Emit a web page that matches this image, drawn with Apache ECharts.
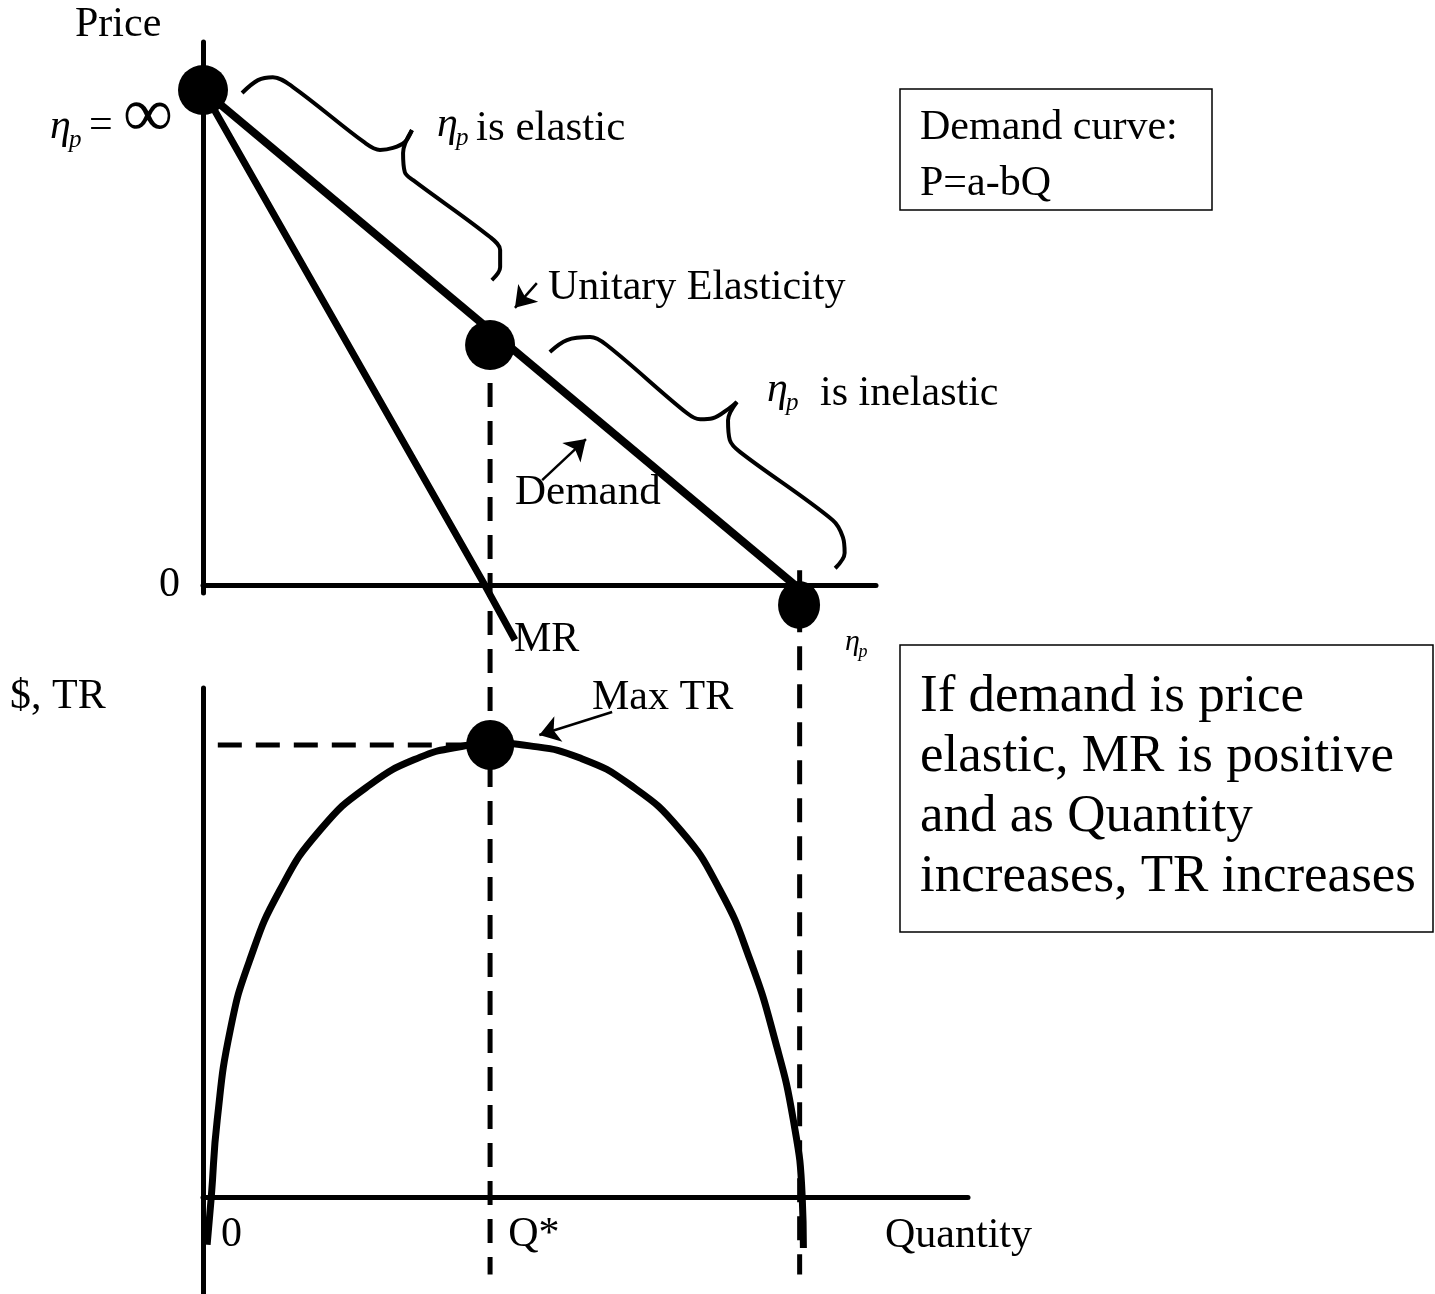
<!DOCTYPE html>
<html>
<head>
<meta charset="utf-8">
<script src="https://cdn.jsdelivr.net/npm/echarts@6/dist/echarts.min.js"></script>
<style>
  html, body { margin: 0; padding: 0; background: #fff; }
  #chart { width: 1435px; height: 1294px; }
</style>
</head>
<body>
<div id="chart"></div>
<script>
// 数据 (Q 以需求截距为 10, P 以价格截距为 10, TR 以最大值为 10)
const qStar = 4.85
const qEnd = 10.08
const demandData = [[0, 10], [10, 0]]
const mrData = [[0, 10], [4.76, 0], [5.27, -1.11]]
const trQ = [0.07, 0.14, 0.24, 0.46, 0.79, 1.30, 1.98, 2.82, 3.67, 4.34, 4.85, 5.52, 6.37, 7.21, 8.06, 8.73, 9.24, 9.66, 9.97, 10.12, 10.14]
const trValue = [-1.06, 0, 1.70, 3.69, 5.24, 6.79, 8.12, 9.12, 9.73, 9.96, 10.04, 9.98, 9.71, 9.12, 8.12, 6.79, 5.24, 3.47, 1.70, 0, -1.13]
const topDots = [[0, 10, 50, 50], [4.85, 4.85, 50, 50], [10.07, -0.4, 42, 48]]
const maxTrDot = [qStar, 10, 48, 50]

// 括号
const elasticBraceA = [[0.66, 9.94], [0.93, 10.2], [1.18, 10.26], [1.52, 10.06], [2.74, 8.93], [2.99, 8.79], [3.21, 8.83], [3.41, 8.95], [3.53, 9.19]]
const elasticBraceB = [[3.53, 9.19], [3.38, 8.73], [3.41, 8.34], [3.55, 8.18], [4.85, 7.03], [5.02, 6.77], [5.02, 6.42], [4.88, 6.16]]
const inelasticBraceA = [[5.86, 4.71], [6.15, 4.95], [6.54, 5.01], [6.82, 4.85], [8.18, 3.47], [8.4, 3.35], [8.61, 3.37], [8.9, 3.58], [9.02, 3.7]]
const inelasticBraceB = [[9.02, 3.7], [8.87, 3.33], [8.9, 2.93], [9.07, 2.69], [10.64, 1.31], [10.81, 0.97], [10.84, 0.65], [10.68, 0.34]]

// 箭头
const unitaryArrow = [[5.64, 6.1], [5.27, 5.6]]
const demandArrow = [[5.73, 2.12], [6.47, 2.95]]
const maxTrArrow = [[6.91, 10.73], [5.68, 10.22]]

// 刻度标签
const bottomTickValues = [0, qStar]
const bottomTickLabels = ['0', 'Q*']

const FONT = '"Liberation Serif", "Times New Roman", serif'
const chart = echarts.init(document.getElementById('chart'))

function axisBase(extra) {
  return Object.assign({
    type: 'value',
    splitLine: { show: false },
    axisTick: { show: false },
    axisLabel: { show: false },
    axisLine: { show: true, lineStyle: { color: '#000', width: 5 } }
  }, extra)
}

function lineSeries(data, width, grid, extra) {
  return Object.assign({
    type: 'line',
    xAxisIndex: grid,
    yAxisIndex: grid,
    data: data,
    showSymbol: false,
    symbol: 'none',
    clip: false,
    lineStyle: { color: '#000', width: width },
    silent: true
  }, extra)
}

function text(t, x, y, size, extra) {
  return {
    type: 'text',
    style: Object.assign({
      text: t, x: x, y: y,
      fill: '#000',
      font: size + 'px ' + FONT,
      verticalAlign: 'middle'
    }, extra)
  }
}

// η 带下标 p
function etaP(x, y, size) {
  const sub = Math.round(size * 0.6)
  return [
    text('η', x, y, size, { font: 'italic ' + size + 'px ' + FONT }),
    text('p', x + size * 0.45, y + size * 0.33, sub, { font: 'italic ' + sub + 'px ' + FONT })
  ]
}

const dashType = [24, 14]
const T = 42

const option = {
  animation: false,
  backgroundColor: '#fff',
  grid: [
    { left: 203, top: 42, width: 673, height: 551, outerBoundsMode: 'none' },
    { left: 203, top: 688, width: 765, height: 606, outerBoundsMode: 'none' }
  ],
  xAxis: [
    axisBase({ gridIndex: 0, min: 0, max: 11.37 }),
    axisBase({ gridIndex: 1, min: 0, max: 12.92 })
  ],
  yAxis: [
    axisBase({
      gridIndex: 0, min: -0.16, max: 10.97,
      axisLabel: {
        show: true,
        customValues: [0],
        formatter: () => '0',
        margin: 23,
        padding: [22, 0, 0, 0],
        color: '#000',
        fontSize: T,
        fontFamily: FONT
      }
    }),
    axisBase({ gridIndex: 1, min: -2.15, max: 11.26 })
  ],
  series: [
    // 虚线
    lineSeries([[qStar, 4.85], [qStar, -14.32]], 5, 0, { lineStyle: { color: '#000', width: 5, type: dashType } }),
    lineSeries([[qEnd, 0.3], [qEnd, -14.32]], 5, 0, { lineStyle: { color: '#000', width: 5, type: dashType } }),
    lineSeries([[0.25, 10], [qStar, 10]], 5, 1, { lineStyle: { color: '#000', width: 5, type: dashType } }),
    // 括号
    lineSeries(elasticBraceA, 4, 0, { smooth: 0.35 }),
    lineSeries(elasticBraceB, 4, 0, { smooth: 0.35 }),
    lineSeries(inelasticBraceA, 4, 0, { smooth: 0.35 }),
    lineSeries(inelasticBraceB, 4, 0, { smooth: 0.35 }),
    // 需求, MR, TR
    lineSeries(demandData, 8, 0),
    lineSeries(mrData, 7, 0),
    lineSeries(trQ.map((q, i) => [q, trValue[i]]), 7, 1, { smooth: true }),
    // 箭头
    {
      type: 'lines',
      coordinateSystem: 'cartesian2d',
      xAxisIndex: 0,
      yAxisIndex: 0,
      symbol: ['none', 'arrow'],
      symbolSize: 20,
      lineStyle: { color: '#000', width: 2.5, opacity: 1 },
      data: [{ coords: unitaryArrow }, { coords: demandArrow }],
      silent: true
    },
    {
      type: 'lines',
      coordinateSystem: 'cartesian2d',
      xAxisIndex: 1,
      yAxisIndex: 1,
      symbol: ['none', 'arrow'],
      symbolSize: 20,
      lineStyle: { color: '#000', width: 2.5, opacity: 1 },
      data: [{ coords: maxTrArrow }],
      silent: true
    },
    // 圆点
    {
      type: 'scatter',
      xAxisIndex: 0,
      yAxisIndex: 0,
      clip: false,
      itemStyle: { color: '#000', opacity: 1 },
      data: topDots.map(d => ({ value: [d[0], d[1]], symbolSize: [d[2], d[3]] })),
      silent: true
    },
    {
      type: 'scatter',
      xAxisIndex: 1,
      yAxisIndex: 1,
      clip: false,
      itemStyle: { color: '#000', opacity: 1 },
      data: [{ value: [maxTrDot[0], maxTrDot[1]], symbolSize: [maxTrDot[2], maxTrDot[3]] }],
      silent: true
    },
    // 横轴刻度标签 (0, Q*)
    {
      type: 'scatter',
      xAxisIndex: 1,
      yAxisIndex: 1,
      symbolSize: 0,
      clip: false,
      silent: true,
      itemStyle: { color: '#000', opacity: 1 },
      data: bottomTickValues.map(v => [v, 0]),
      label: {
        show: true,
        position: [18, 17],
        align: 'left',
        verticalAlign: 'top',
        formatter: p => bottomTickLabels[p.dataIndex],
        color: '#000',
        opacity: 1,
        fontSize: T,
        fontFamily: FONT
      }
    }
  ],
  graphic: [
    text('Price', 75, 25, T),
    ...etaP(50, 127, 42),
    text('=', 89, 126, T),
    text('∞', 123, 118, 70),
    ...etaP(437, 125, 42),
    text('is elastic', 476, 129, 43),
    text('Unitary Elasticity', 548, 288, T),
    ...etaP(767, 390, 42),
    text('is inelastic', 820, 394, T),
    text('Demand', 515, 493, 43),
    text('MR', 514, 640, T),
    ...etaP(845, 642, 30),
    text('$, TR', 10, 697, T),
    text('Max TR', 592, 698, T),
    text('Quantity', 885, 1236, T),
    {
      type: 'rect',
      shape: { x: 900, y: 89, width: 312, height: 121 },
      style: { fill: 'none', stroke: '#000', lineWidth: 1.5 }
    },
    text('Demand curve:', 920, 128, T),
    text('P=a-bQ', 920, 184, T),
    {
      type: 'rect',
      shape: { x: 900, y: 645, width: 533, height: 287 },
      style: { fill: 'none', stroke: '#000', lineWidth: 1.5 }
    },
    text('If demand is price', 920, 697, 53),
    text('elastic, MR is positive', 920, 757, 53),
    text('and as Quantity', 920, 817, 53),
    text('increases, TR increases', 920, 877, 53)
  ]
}

chart.setOption(option)
</script>
</body>
</html>
